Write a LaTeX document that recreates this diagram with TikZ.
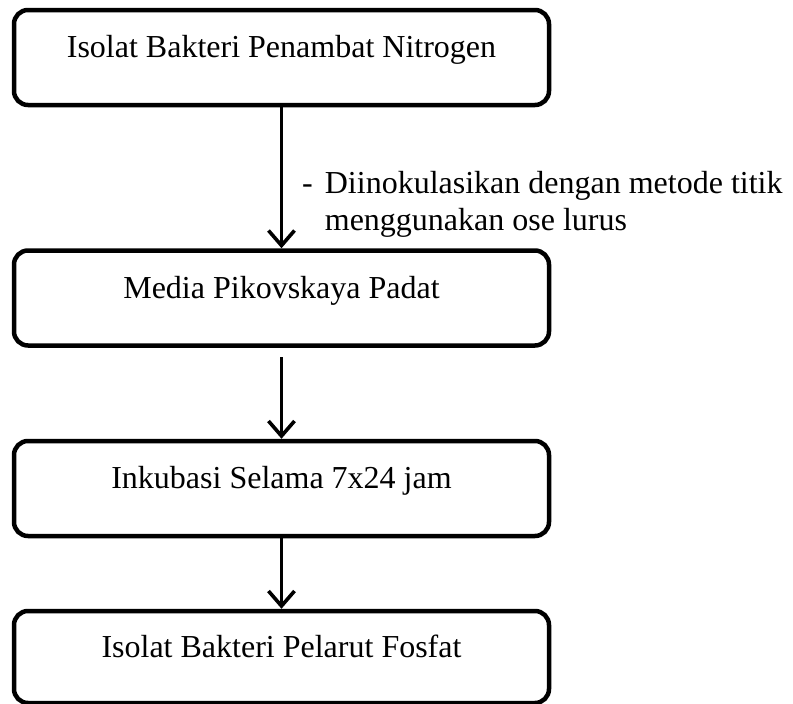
\documentclass[tikz,border=0pt]{standalone}
\usepackage{fontspec}
\setmainfont{Liberation Serif}
\usetikzlibrary{arrows.meta}
\begin{document}
\begin{tikzpicture}[x=1pt,y=-1pt,
  box/.style={draw, line width=4.5pt, rounded corners=14pt, minimum width=535pt,
    minimum height=95pt, inner sep=0pt, text height=20pt, text depth=20pt,
    font=\fontsize{32}{37}\selectfont},
  arr/.style={line width=3.2pt, -{Straight Barb[length=15pt,width=26pt,line width=3.6pt]}},
  lbl/.style={inner sep=0pt, anchor=base west, font=\fontsize{32}{37}\selectfont}]
\useasboundingbox (0,0) rectangle (793,704);
\node[box] (b1) at (281.5,57.5) {Isolat Bakteri Penambat Nitrogen};
\node[box] (b2) at (281.5,298) {Media Pikovskaya Padat};
\node[box] (b3) at (281.5,488.5) {Inkubasi Selama 7x24 jam};
\node[box, minimum height=92pt] (b4) at (281.5,657) {Isolat Bakteri Pelarut Fosfat};
\coordinate (a2s) at (281.5,357);
\draw[arr] (b1.south) -- (b2.north);
\draw[arr] (a2s) -- (b3.north);
\draw[arr] (b3.south) -- (b4.north);
\node[lbl] (note) at (302,193) {\begin{tabular}[t]{@{}l@{\hspace{12pt}}l@{}}-&Diinokulasikan dengan metode titik\\ &menggunakan ose lurus\end{tabular}};
\end{tikzpicture}
\end{document}
